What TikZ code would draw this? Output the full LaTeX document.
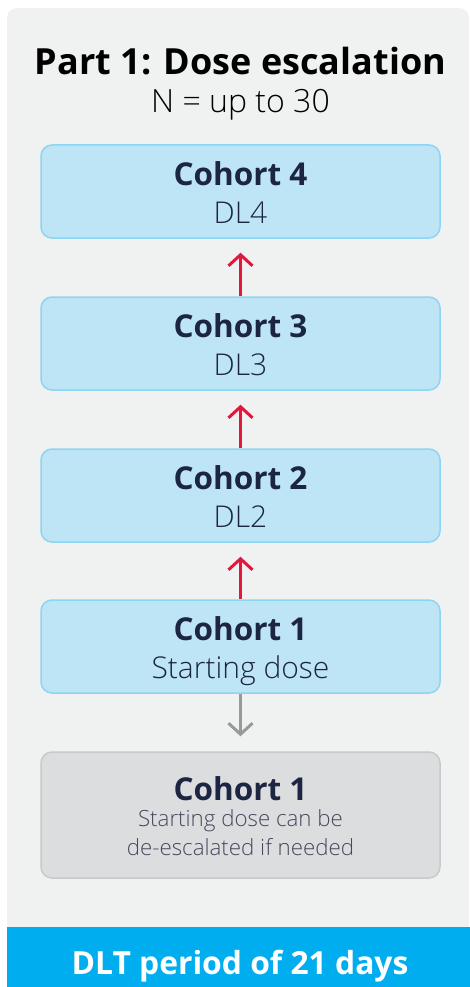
\documentclass[tikz,border=0pt]{standalone}
\usepackage{fontspec}
\setmainfont{Open Sans}
\newfontfamily\lightfont{Open Sans Light}
\usepackage{tikz}
\usetikzlibrary{arrows.meta, calc}
\definecolor{panelgray}{HTML}{F0F1F1}
\definecolor{cohortfill}{HTML}{BEE5F6}
\definecolor{cohortline}{HTML}{8ED4F3}
\definecolor{backfill}{HTML}{DCDDDF}
\definecolor{backline}{HTML}{C8C9CB}
\definecolor{navytext}{HTML}{1C2541}
\definecolor{backtext}{HTML}{454A5E}
\definecolor{barblue}{HTML}{00AEEF}
\definecolor{uparrow}{HTML}{E2173D}
\definecolor{downarrow}{HTML}{999999}

\tikzset{
  cohort/.style={draw=cohortline, fill=cohortfill, line width=1.5pt, rounded corners=11pt,
    minimum width=399pt, minimum height=93pt, align=center, text=navytext, inner sep=0pt,
    text height=63pt, text depth=0pt, font=\lightfont\fontsize{30}{38}\selectfont},
  fallback/.style={cohort, draw=backline, fill=backfill, minimum height=126pt,
    text height=80pt, text=backtext, font=\lightfont\fontsize{22.3}{28.5}\selectfont},
  escalate/.style={draw=uparrow, line width=3pt, -{Straight Barb[length=11pt,width=24pt]}, shorten >=14pt},
  deescalate/.style={draw=downarrow, line width=3pt, -{Straight Barb[length=11pt,width=24pt]}, shorten >=15pt}
}
\newcommand{\cohorthead}[1]{{\color{navytext}\normalfont\bfseries\fontsize{31.5}{38}\selectfont #1}}

\begin{document}
\begin{tikzpicture}[x=1pt, y=-1pt]
\useasboundingbox (0,0) rectangle (470,987);
% panel and DLT bar
\fill[panelgray, rounded corners=10pt] (7,8) -- (469,8) -- (469,1000) -- (7,1000) -- cycle;
\fill[barblue] (7,927) rectangle (470,987);

\node[font=\bfseries\fontsize{36}{40}\selectfont, anchor=base] (title) at (240.5,75) {Part 1: Dose escalation};
\node[font=\lightfont\fontsize{32}{36}\selectfont, anchor=base] (size) at (240.5,113) {N = up to 30};

% cohorts, top to bottom
\node[cohort] (c4) at (240.5,191.5) {\cohorthead{Cohort 4}\\ DL4};
\node[cohort] (c3) at (240.5,343.5) {\cohorthead{Cohort 3}\\ DL3};
\node[cohort] (c2) at (240.5,495.5) {\cohorthead{Cohort 2}\\ DL2};
\node[cohort] (c1) at (240.5,646.5) {\cohorthead{Cohort 1}\\ Starting dose};
\node[fallback] (c0) at (240.5,815) {\cohorthead{Cohort 1}\\[-2pt]
  Starting dose can be\\ de-escalated if needed};

\draw[escalate] (c3) -- (c4);
\draw[escalate] (c2) -- (c3);
\draw[escalate] (c1) -- (c2);
\draw[deescalate] (c1) -- (c0);

\node[text=white, font=\bfseries\fontsize{31.8}{36}\selectfont, anchor=base] (dlt) at (240,974) {DLT period of 21 days};
\end{tikzpicture}
\end{document}
